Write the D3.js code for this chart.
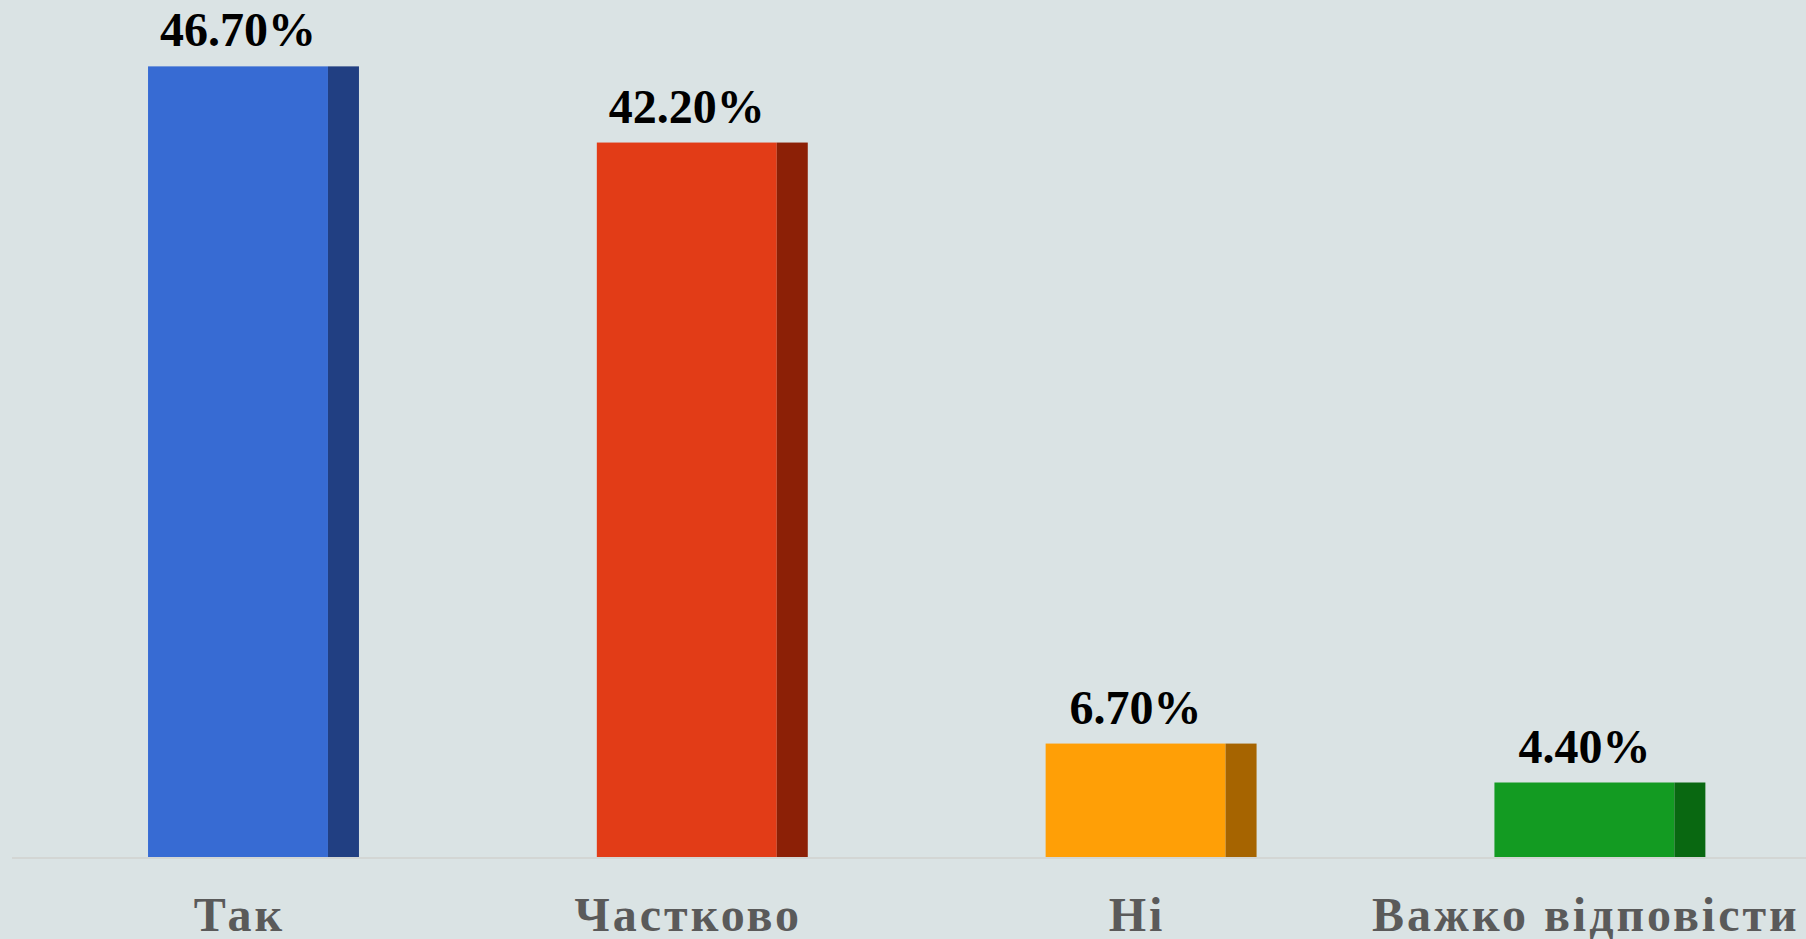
<!DOCTYPE html>
<html>
<head>
<meta charset="utf-8">
<script src="https://cdn.jsdelivr.net/npm/d3@7"></script>
<style>
  html, body { margin: 0; padding: 0; background: #dae3e4; }
  svg { display: block; }
</style>
</head>
<body>
<svg id="chart" width="1806" height="939"></svg>
<script>
const categories = ["Так", "Частково", "Ні", "Важко відповісти"];
const values = [46.7, 42.2, 6.7, 4.4];
const valueLabels = ["46.70%", "42.20%", "6.70%", "4.40%"];
const frontColors = ["#376bd3", "#e23c17", "#ff9f06", "#139b22"];
const sideColors = ["#213f82", "#8c2006", "#a66400", "#096811"];

const W = 1806, H = 939;
const svg = d3.select("#chart");
svg.append("rect").attr("width", W).attr("height", H).attr("fill", "#dae3e4");

const baseY = 857;
const y = d3.scaleLinear().domain([0, 50]).range([baseY, baseY - 50 * 16.93]);
const x = d3.scaleBand().domain(categories)
  .range([29.1, 1824.3]).paddingInner(0.53).paddingOuter(0.265);
const bw = x.bandwidth();
const sideW = 31;
const frontW = bw - sideW;

// baseline
svg.append("line")
  .attr("x1", 12).attr("x2", W).attr("y1", baseY + 1).attr("y2", baseY + 1)
  .attr("stroke", "#d3d6d4").attr("stroke-width", 2);

const g = svg.append("g");
const bars = g.selectAll("g.bar").data(categories).join("g").attr("class", "bar");

bars.append("rect")
  .attr("x", d => x(d))
  .attr("y", (d, i) => y(values[i]))
  .attr("width", frontW)
  .attr("height", (d, i) => baseY - y(values[i]))
  .attr("fill", (d, i) => frontColors[i]);

bars.append("rect")
  .attr("x", d => x(d) + frontW)
  .attr("y", (d, i) => y(values[i]))
  .attr("width", sideW)
  .attr("height", (d, i) => baseY - y(values[i]))
  .attr("fill", (d, i) => sideColors[i]);

bars.append("text")
  .attr("x", d => x(d) + frontW / 2)
  .attr("y", (d, i) => y(values[i]) - 20)
  .attr("text-anchor", "middle")
  .attr("font-family", "'Liberation Serif', 'Times New Roman', serif")
  .attr("font-weight", "bold")
  .attr("font-size", 48)
  .attr("fill", "#000")
  .text((d, i) => valueLabels[i]);

// category labels
svg.append("g").selectAll("text").data(categories).join("text")
  .attr("x", d => x(d) + frontW / 2 + 1.5)
  .attr("y", 931)
  .attr("text-anchor", "middle")
  .attr("font-family", "'Liberation Serif', 'Times New Roman', serif")
  .attr("font-weight", "bold")
  .attr("font-size", 48)
  .attr("letter-spacing", "3px")
  .attr("fill", "#5a5a5a")
  .text(d => d);
</script>
</body>
</html>
